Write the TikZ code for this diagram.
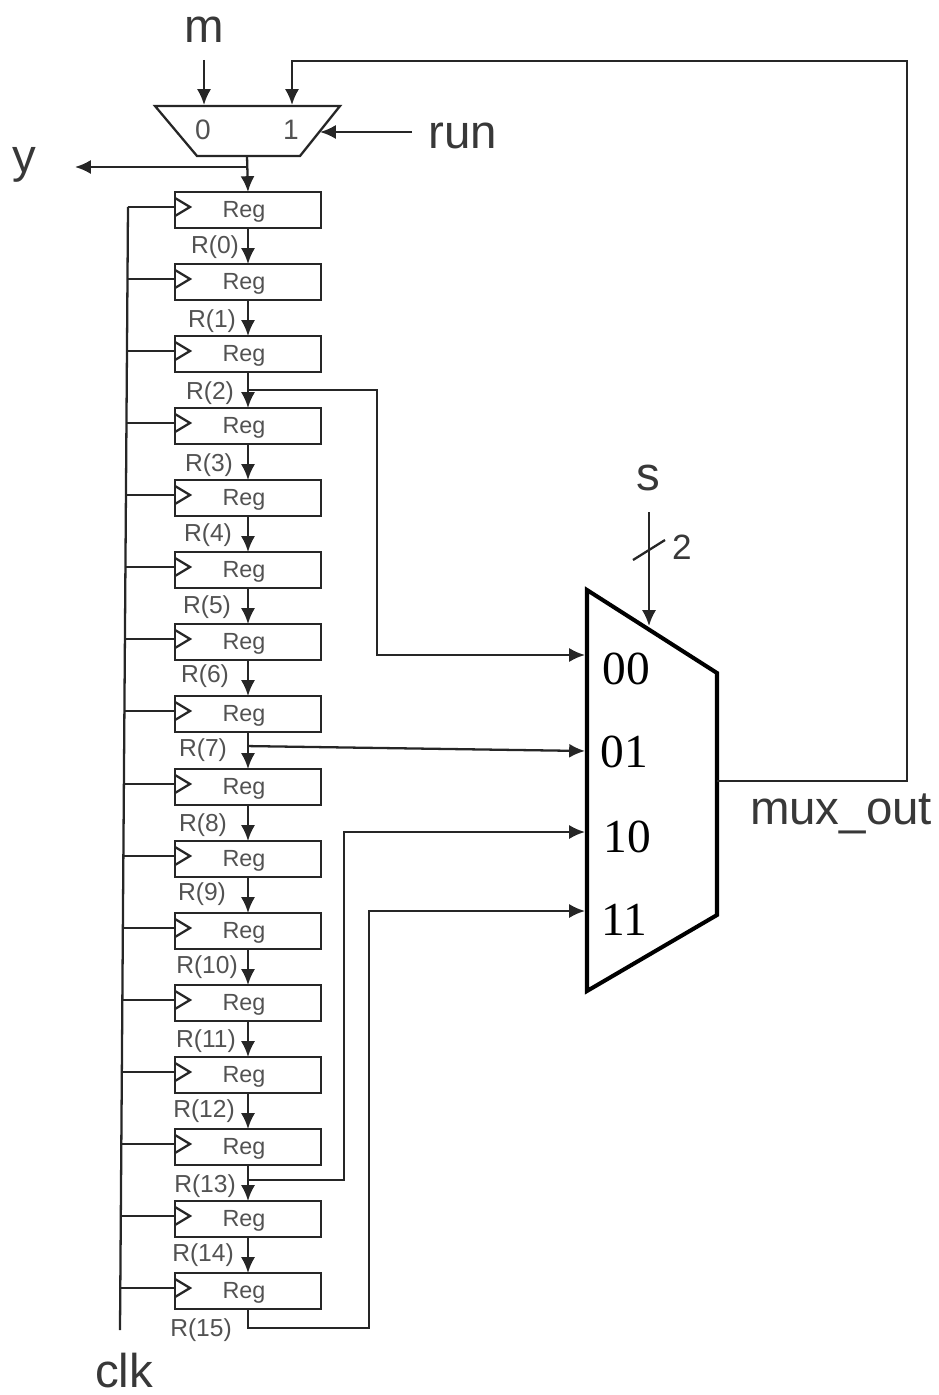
\documentclass[tikz,border=0pt]{standalone}
\usepackage{fontspec}
\setmainfont{Liberation Sans}
\newfontfamily\serifdigits{Liberation Serif}
\usetikzlibrary{arrows.meta,calc}
\definecolor{wirecol}{gray}{0.15}
\definecolor{textcol}{gray}{0.22}
\definecolor{smallcol}{gray}{0.32}
\tikzset{
    wire/.style={draw=wirecol,line width=1.3pt},
    wirearrow/.style={wire,-{Latex[length=9pt,width=8pt]}},
    regbox/.style={draw=wirecol,line width=1.3pt,minimum width=2.92cm,minimum height=0.72cm,inner sep=0pt,outer sep=0pt},
    regname/.style={inner sep=0pt,text=smallcol,font=\fontsize{13.3}{15}\selectfont},
    biglabel/.style={inner sep=0pt,text=textcol,font=\fontsize{27}{30}\selectfont},
    sellabel/.style={inner sep=0pt,text=smallcol,font=\fontsize{16}{18}\selectfont},
    reglabel/.style={inner sep=0pt,text=smallcol,font=\fontsize{14}{16}\selectfont},
    inlabel/.style={inner sep=0pt,text=black,font=\serifdigits\fontsize{27}{30}\selectfont},
}
\begin{document}
\begin{tikzpicture}[x=0.02cm,y=-0.02cm]
    \useasboundingbox (0,0) rectangle (939,1395);

    % Draw the register chain with its clock stubs and labels
    \foreach \i/\ytop/\lx/\ly in {0/192/215/247,1/264/212/321,2/336/210/393,3/408/209/465,
        4/480/208/535,5/552/207/607,6/624/205/676,7/696/203/750,8/769/203/825,9/841/202/894,
        10/913/207/967,11/985/206/1041,12/1057/204/1111,13/1129/205/1186,14/1201/203/1255,15/1273/201/1330} {
        \node[regbox] (reg\i) at (248,\ytop+18) {};
        \node[regname] (regname\i) at (244,\ytop+20) {Reg};
        \node[reglabel] (rlabel\i) at (\lx,\ly) {R(\i)};
        \coordinate (clk\i) at ({128-(\ytop+15-207)*8/1123},\ytop+15);
        \coordinate (ck\i) at (175,\ytop+15);
        \draw[wire] (clk\i) -- (ck\i);
        \draw[wire] (ck\i) ++(0,-9) -- ++(15,9) -- ++(-15,9);
    }
    \foreach \i in {1,...,15} {
        \pgfmathtruncatemacro{\prev}{\i-1}
        \draw[wirearrow] (reg\prev.south) -- (reg\i.north);
    }

    % Clock bus
    \coordinate (clktop) at (128,207);
    \coordinate (clkbot) at (120,1330);
    \draw[wire] (clktop) -- (clkbot);
    \node[biglabel] (clk) at (124,1371) {clk};

    % Input mux at the top
    \coordinate (ma) at (155,106);
    \coordinate (mb) at (340,106);
    \coordinate (mc) at (300,156);
    \coordinate (md) at (197,156);
    \draw[wire] (ma) -- (mb) -- (mc) -- (md) -- cycle;
    \node[sellabel] (zero) at (203,130) {0};
    \node[sellabel] (one) at (291,130) {1};
    \node[biglabel] (m) at (204,30) {m};
    \node[biglabel] (run) at (463,136) {run};
    \node[biglabel] (y) at (24,165) {y};
    \coordinate (mstart) at (204,60);
    \coordinate (min) at (204,105);
    \coordinate (runstart) at (412,132);
    \coordinate (runin) at (320,132);
    \coordinate (mout) at (247,156);
    \coordinate (ytap) at (247,167);
    \coordinate (yend) at (75,167);
    \draw[wirearrow] (mstart) -- (min);
    \draw[wirearrow] (runstart) -- (runin);
    \draw[wirearrow] (ytap) -- (yend);
    \draw[wirearrow] (mout) -- (reg0.north);

    % Output mux
    \coordinate (pa) at (587,590);
    \coordinate (pb) at (717,673);
    \coordinate (pc) at (717,915);
    \coordinate (pd) at (587,991);
    \draw[draw=black,line width=2.3pt] (pa) -- (pb) -- (pc) -- (pd) -- cycle;
    \node[inlabel] (sel00) at (626,669) {00};
    \node[inlabel] (sel01) at (624,752) {01};
    \node[inlabel] (sel10) at (627,837) {10};
    \node[inlabel] (sel11) at (624,920) {11};

    % Select input
    \node[biglabel] (s) at (648,478) {s};
    \node[inner sep=0pt,text=textcol,font=\fontsize{20}{22}\selectfont] (width) at (682,547) {2};
    \coordinate (sstart) at (649,512);
    \coordinate (send) at (649,626);
    \coordinate (slasha) at (633,560);
    \coordinate (slashb) at (665,540);
    \draw[wirearrow] (sstart) -- (send);
    \draw[wire] (slasha) -- (slashb);

    % Tapped registers into the output mux
    \coordinate (tapa) at ($(reg2.south)!0.5!(reg3.north)$);
    \coordinate (tapb) at ($(reg7.south)!0.38!(reg8.north)$);
    \coordinate (tapc) at ($(reg13.south)!0.42!(reg14.north)$);
    \coordinate (in00) at (585,655);
    \coordinate (in01) at (585,751);
    \coordinate (in10) at (585,832);
    \coordinate (in11) at (585,911);
    \coordinate (lastcorner) at (248,1328);
    \draw[wirearrow] (tapa) -| (377,655) -- (in00);
    \draw[wirearrow] (tapb) -- (in01);
    \draw[wirearrow] (tapc) -| (344,832) -- (in10);
    \draw[wirearrow] (reg15.south) -- (lastcorner) -| (369,911) -- (in11);

    % Feedback from the output mux
    \coordinate (fbstart) at (717,781);
    \coordinate (fbend) at (292,105);
    \draw[wirearrow] (fbstart) -- (907,781) -- (907,61) -- (292,61) -- (fbend);
    \node[biglabel] (muxout) at (841,814) {mux\_out};
\end{tikzpicture}
\end{document}
